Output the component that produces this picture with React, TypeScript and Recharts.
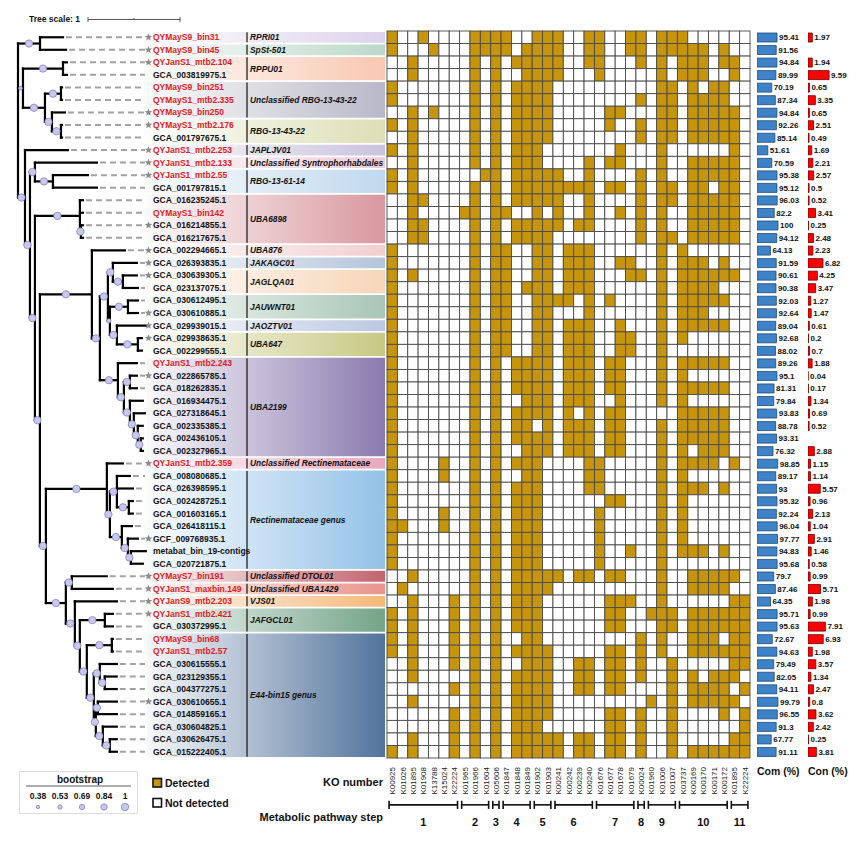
import React from "react";
import {
  ScatterChart,
  Scatter,
  XAxis,
  YAxis,
  ReferenceLine,
  ReferenceArea,
  BarChart,
  Bar,
  LabelList,
} from "recharts";

const FONT = '"Liberation Sans", Arial, Helvetica, sans-serif';

// ---------- data ----------
const GENOMES = [
  "QYMayS9_bin31", "QYMayS9_bin45", "QYJanS1_mtb2.104", "GCA_003819975.1", "QYMayS9_bin251",
  "QYMayS1_mtb2.335", "QYMayS9_bin250", "QYMayS1_mtb2.176", "GCA_001797675.1", "QYJanS1_mtb2.253",
  "QYJanS1_mtb2.133", "QYJanS1_mtb2.55", "GCA_001797815.1", "GCA_016235245.1", "QYMayS1_bin142",
  "GCA_016214855.1", "GCA_016217675.1", "GCA_002294665.1", "GCA_026393835.1", "GCA_030639305.1",
  "GCA_023137075.1", "GCA_030612495.1", "GCA_030610885.1", "GCA_029939015.1", "GCA_029938635.1",
  "GCA_002299555.1", "QYJanS1_mtb2.243", "GCA_022865785.1", "GCA_018262835.1", "GCA_016934475.1",
  "GCA_027318645.1", "GCA_002335385.1", "GCA_002436105.1", "GCA_002327965.1", "QYJanS1_mtb2.359",
  "GCA_008080685.1", "GCA_026398595.1", "GCA_002428725.1", "GCA_001603165.1", "GCA_026418115.1",
  "GCF_009768935.1", "metabat_bin_19-contigs", "GCA_020721875.1", "QYMayS7_bin191", "QYJanS1_maxbin.149",
  "QYJanS9_mtb2.203", "QYJanS1_mtb2.421", "GCA_030372995.1", "QYMayS9_bin68", "QYJanS1_mtb2.57",
  "GCA_030615555.1", "GCA_023129355.1", "GCA_004377275.1", "GCA_030610655.1", "GCA_014859165.1",
  "GCA_030604825.1", "GCA_030626475.1", "GCA_015222405.1",
];

const STARRED = [
  "QYMayS9_bin31", "QYMayS9_bin45", "QYJanS1_mtb2.104", "QYMayS9_bin250", "QYMayS1_mtb2.176",
  "QYJanS1_mtb2.253", "QYJanS1_mtb2.133", "QYJanS1_mtb2.55", "GCA_016214855.1", "GCA_002294665.1",
  "GCA_026393835.1", "GCA_030639305.1", "GCA_030610885.1", "GCA_029939015.1", "GCA_029938635.1",
  "GCA_022865785.1", "QYJanS1_mtb2.359", "GCF_009768935.1", "QYMayS7_bin191", "QYJanS1_maxbin.149",
  "QYJanS9_mtb2.203", "QYJanS1_mtb2.421", "GCA_030610655.1",
];

const COM = [
  95.41, 91.56, 94.84, 89.99, 70.19, 87.34, 94.84, 92.26, 85.14, 51.61,
  70.59, 95.38, 95.12, 96.03, 82.2, 100, 94.12, 64.13, 91.59, 90.61,
  90.38, 92.03, 92.64, 89.04, 92.68, 88.02, 89.26, 95.1, 81.31, 79.84,
  93.83, 88.78, 93.31, 76.32, 98.85, 89.17, 93, 95.32, 92.24, 96.04,
  97.77, 94.83, 95.68, 79.7, 87.46, 64.35, 95.71, 95.63, 72.67, 94.63,
  79.49, 82.05, 94.11, 99.79, 96.55, 91.3, 67.77, 91.11,
];

const CON = [
  1.97, 0, 1.94, 9.59, 0.65, 3.35, 0.65, 2.51, 0.49, 1.69,
  2.21, 2.57, 0.5, 0.52, 3.41, 0.25, 2.48, 2.23, 6.82, 4.25,
  3.47, 1.27, 1.47, 0.61, 0.2, 0.7, 1.88, 0.04, 0.17, 1.34,
  0.69, 0.52, 0, 2.88, 1.15, 1.14, 5.57, 0.96, 2.13, 1.04,
  2.91, 1.46, 0.58, 0.99, 5.71, 1.98, 0.99, 7.91, 6.93, 1.98,
  3.57, 1.34, 2.47, 0.8, 3.62, 2.42, 0.25, 3.81,
];

const KO = [
  "K00925", "K01026", "K01895", "K01908", "K13788", "K15024", "K22224",
  "K01965", "K01966", "K01604", "K05606", "K01847", "K01848", "K01849",
  "K01902", "K01903", "K00241", "K00242", "K00239", "K00240", "K01676",
  "K01677", "K01678", "K01679", "K00024", "K01960", "K01006", "K01007",
  "K03737", "K00169", "K00170", "K00171", "K00172", "K01895", "K22224",
];

const STEP_FIRST = [0, 7, 10, 11, 14, 16, 20, 24, 25, 28, 33];
const STEP_LAST = [6, 9, 10, 13, 15, 19, 23, 24, 27, 32, 34];

const CLADE_NAMES = [
  "RPRI01", "SpSt-501", "RPPU01", "Unclassified RBG-13-43-22", "RBG-13-43-22", "JAPLJV01",
  "Unclassified Syntrophorhabdales", "RBG-13-61-14", "UBA6898", "UBA876", "JAKAGC01", "JAGLQA01",
  "JAUWNT01", "JAOZTV01", "UBA647", "UBA2199", "Unclassified Rectinemataceae", "Rectinemataceae genus",
  "Unclassified DTOL01", "Unclassified UBA1429", "VJS01", "JAFGCL01", "E44-bin15 genus",
];
const CLADE_FIRST = [0, 1, 2, 4, 7, 9, 10, 11, 13, 17, 18, 19, 21, 23, 24, 26, 34, 35, 43, 44, 45, 46, 48];
const CLADE_LAST = [0, 1, 3, 6, 8, 9, 10, 12, 16, 17, 18, 20, 22, 23, 25, 33, 34, 42, 43, 44, 45, 47, 57];
const CLADE_COLORS = [
  "#dcd4ec", "#bcd8ca", "#f9c8b2", "#b8b8c8", "#dcdfb6", "#c9c3de", "#eccbdc", "#c0d8ee",
  "#d8989e", "#f2cfcf", "#b4c4da", "#f6d6b8", "#a8c6b6", "#bcc8e2", "#c8c884", "#8a7aae",
  "#eaa8bf", "#94c2e8", "#c2646f", "#e9948a", "#f4b87a", "#74a488", "#52739c",
];

// rows: 1 = detected, 0 = not detected (35 KO columns)
const HEAT = [
  "10010000111100111" + "001100110111000000",
  "10001000111101111" + "001100110111110100",
  "00100000101011111" + "001100010101110110",
  "00100000101001111" + "000100000101110010",
  "10000000101011110" + "000000000110101100",
  "10000000101011110" + "000000010110111100",
  "00101000101011110" + "000011000110111110",
  "10100000101011110" + "000010010110111110",
  "00100000101011110" + "000000010110111110",
  "10100000101011100" + "000001000100000010",
  "00100000101011100" + "001011000100111110",
  "10100000011011111" + "001000010100111110",
  "10100000101011111" + "111011010110110110",
  "00110000101011111" + "001000010110111110",
  "00100001101100101" + "001001010100111110",
  "00110000101011111" + "011000010100111110",
  "00110000101011110" + "000000010110111110",
  "10000000101100110" + "111000000101000000",
  "10000000101100110" + "111001100101110100",
  "10100000101100110" + "111000110101111110",
  "10000000101101110" + "111000000101111000",
  "10000000101100111" + "101010000101111100",
  "10000000101100110" + "001000000101110000",
  "10000000101100110" + "111001000101111100",
  "10000000101100110" + "111001100101000000",
  "10000000101100110" + "111001100100000000",
  "10000000101011110" + "111011000101111100",
  "10000000101011110" + "111011000101000000",
  "10000000101011110" + "111011000101111100",
  "10000000101001110" + "111001000101000000",
  "10000000101011110" + "101011000001111100",
  "10000000101011010" + "111011000101111100",
  "10000000101011110" + "111011000101111100",
  "10000000101001110" + "111011000101011100",
  "10000100101011100" + "001100000101111010",
  "10000100101001100" + "001100000101000000",
  "10000000101011100" + "001100000101110100",
  "10000000101011100" + "000011000101000000",
  "10000100101011100" + "000100000101000000",
  "11000100101011100" + "000100000101000000",
  "10000000101011100" + "000100000101000000",
  "10000000101011100" + "000100100101110100",
  "10000000101011100" + "000100000100000000",
  "00100000101011111" + "011011000100111110",
  "01000000101011110" + "000000000100111100",
  "00100010101011100" + "000011100100000011",
  "10100010101011100" + "000011001110111111",
  "10100010101011100" + "000011000110111111",
  "10100010101001100" + "000000010100111011",
  "10100010101011110" + "000011010100111111",
  "00100010101001110" + "011011010010000011",
  "00100000101011110" + "011011010010101110",
  "00000010101011110" + "011011000010111101",
  "00100000101011110" + "000000001010111110",
  "00000010101011110" + "000011010010000101",
  "00000010101011100" + "000011010010000001",
  "00100010101011111" + "011011010010000011",
  "10100010101011111" + "011011010010111111",
];

const BOOTSTRAP_LEGEND = [0.38, 0.53, 0.69, 0.84, 1];

// phylogeny, branch lengths in tree-scale units, internal labels = bootstrap
const TREE = `(
(QYMayS9_bin31:0.250,QYMayS9_bin45:0.283)1:0.239,
((QYJanS1_mtb2.104:0.043,GCA_003819975.1:0.043)1:0.435,((QYMayS9_bin251:0.011,QYMayS1_mtb2.335:0.011)1:0.174,(QYMayS9_bin250:0.141,(QYMayS1_mtb2.176:0.011,GCA_001797675.1:0.011)1:0.098)1:0.076)1:0.239)0.45:0.054,
(QYJanS1_mtb2.253:0.467,
((QYJanS1_mtb2.133:0.674,(QYJanS1_mtb2.55:0.380,GCA_001797815.1:0.478)1:0.196)1:0.054,
((GCA_016235245.1:0.033,QYMayS1_bin142:0.033,(GCA_016214855.1:0.022,GCA_016217675.1:0.022)1:0.011)1:0.489,
((GCA_002294665.1:0.359,
(((GCA_026393835.1:0.261,(GCA_030639305.1:0.152,GCA_023137075.1:0.163)1:0.109)1:0.054,
((GCA_030612495.1:0.109,GCA_030610885.1:0.109)1:0.196,(GCA_029939015.1:0.326,(GCA_029938635.1:0.043,GCA_002299555.1:0.043)1:0.228)1:0.076)0.53:0.022)1:0.087,
(QYJanS1_mtb2.243:0.207,((GCA_022865785.1:0.076,GCA_018262835.1:0.076)1:0.065,(GCA_016934475.1:0.141,(GCA_027318645.1:0.120,(GCA_002335385.1:0.054,(GCA_002436105.1:0.022,GCA_002327965.1:0.022)1:0.033)1:0.043)1:0.043)1:0.065)1:0.065)1:0.196)1:0.087)1:0.565,
((QYJanS1_mtb2.359:0.174,((GCA_008080685.1:0.141,GCA_026398595.1:0.174,(GCA_002428725.1:0.043,GCA_001603165.1:0.043)1:0.130)1:0.076,(GCA_026418115.1:0.109,(GCF_009768935.1:0.109,(metabat_bin_19-contigs:0.163,GCA_020721875.1:0.130)1:0.033)1:0.065)1:0.130)1:0.033)1:0.663,
((QYMayS7_bin191:0.380,QYJanS1_maxbin.149:0.446)1:0.065,
(QYJanS9_mtb2.203:0.457,((QYJanS1_mtb2.421:0.087,GCA_030372995.1:0.087)1:0.272,((QYMayS9_bin68:0.011,QYJanS1_mtb2.57:0.011)1:0.272,((GCA_030615555.1:0.185,(GCA_023129355.1:0.130,GCA_004377275.1:0.130)1:0.054)1:0.065,((GCA_030610655.1:0.207,GCA_014859165.1:0.207)1:0.022,(GCA_030604825.1:0.152,(GCA_030626475.1:0.076,GCA_015222405.1:0.076)1:0.076)1:0.076)1:0.022)1:0.076)1:0.076)1:0.054)1:0.098)1:0.217)1:0.065)1:0.054)1:0.054)1:0.054)1:0.076);`;

// ---------- layout ----------
const W = 865;
const H = 843;
const TOP = 31; // first row edge
const BOTTOM_GAP = H - 758; // below last row
const ROWS = GENOMES.length;
const ROW_H = (H - TOP - BOTTOM_GAP) / ROWS;

const TREE_LEFT = 18;
const TREE_PX = 92; // px per tree unit
const TREE_RIGHT = 385;
const TREE_MAX = (TREE_RIGHT - TREE_LEFT) / TREE_PX;
const toTree = (px: number) => (px - TREE_LEFT) / TREE_PX;

const HEAT_LEFT = 387;
const HEAT_RIGHT = 750;
const CELL_W = (HEAT_RIGHT - HEAT_LEFT) / KO.length;

const GOLD = "#c6950c";
const RED = "#e31a1c";

// ---------- tree parsing ----------
type TNode = { name: string; len: number; support: number; children: TNode[]; depth: number; y: number };

function parseNewick(src: string): TNode {
  const s = src.replace(/\s+/g, "");
  let i = 0;
  const node = (): TNode => {
    const n: TNode = { name: "", len: 0, support: 0, children: [], depth: 0, y: 0 };
    if (s[i] === "(") {
      i++;
      n.children.push(node());
      while (s[i] === ",") {
        i++;
        n.children.push(node());
      }
      i++;
    }
    let lab = "";
    while (i < s.length && !",():;".includes(s[i])) lab += s[i++];
    if (s[i] === ":") {
      i++;
      let num = "";
      while (i < s.length && !",();".includes(s[i])) num += s[i++];
      n.len = parseFloat(num);
    }
    if (n.children.length) n.support = parseFloat(lab) || 0;
    else n.name = lab;
    return n;
  };
  return node();
}

const treeRoot = parseNewick(TREE);

type Seg = { x1: number; y1: number; x2: number; y2: number };
const treeEdges: Seg[] = [];
const bootNodes: { x: number; y: number; b: number }[] = [];
const tipNodes: { name: string; depth: number; y: number }[] = [];

function layoutTree(n: TNode, parentDepth: number, isRoot: boolean) {
  n.depth = parentDepth + n.len;
  if (!n.children.length) {
    n.y = GENOMES.indexOf(n.name);
    tipNodes.push({ name: n.name, depth: n.depth, y: n.y });
    return;
  }
  n.children.forEach((c) => layoutTree(c, n.depth, false));
  const first = n.children[0];
  const last = n.children[n.children.length - 1];
  n.y = (first.y + last.y) / 2;
  treeEdges.push({ x1: n.depth, y1: first.y, x2: n.depth, y2: last.y });
  n.children.forEach((c) => treeEdges.push({ x1: n.depth, y1: c.y, x2: c.depth, y2: c.y }));
  if (!isRoot) bootNodes.push({ x: (parentDepth + n.depth) / 2, y: n.y, b: n.support });
}
layoutTree(treeRoot, 0, true);

const LEADER_END = toTree(145);
const leaders = tipNodes
  .filter((t) => t.depth + 0.05 < LEADER_END)
  .map((t) => ({ x1: t.depth + 3 / TREE_PX, x2: LEADER_END, y: t.y }));

const tipLabels = GENOMES.map((g, i) => ({
  x: toTree(153),
  y: i,
  name: g,
  star: STARRED.includes(g),
  red: g.startsWith("QY"),
}));

const cladeLabels = CLADE_NAMES.map((c, i) => ({
  x: toTree(250),
  y: (CLADE_FIRST[i] + CLADE_LAST[i]) / 2,
  name: c,
}));

const heatCells = HEAT.flatMap((row, r) =>
  row.split("").map((v, c) => ({ x: c, y: r, v: v === "1" }))
);

const barRows = GENOMES.map((g, i) => ({ name: g, com: COM[i], con: CON[i] }));

const stepLabels = STEP_FIRST.map((f, i) => ({ x: (f + STEP_LAST[i]) / 2, y: 0.72, step: i + 1 }));

const bootRadius = (b: number) => 1.7 + (2.0 * (b - 0.38)) / 0.62;

function starPath(cx: number, cy: number, r: number) {
  const pts: string[] = [];
  for (let k = 0; k < 10; k++) {
    const rad = k % 2 === 0 ? r : r * 0.45;
    const a = -Math.PI / 2 + (k * Math.PI) / 5;
    pts.push(`${(cx + rad * Math.cos(a)).toFixed(2)},${(cy + rad * Math.sin(a)).toFixed(2)}`);
  }
  return `M${pts.join("L")}Z`;
}

// ---------- shapes ----------
const renderBoot = (p: any) => (
  <circle cx={p.cx} cy={p.cy} r={bootRadius(p.payload.b)} fill="#c7c8ee" stroke="#7a7ab8" strokeWidth={0.7} />
);

const renderTip = (p: any) => {
  const d = p.payload;
  return (
    <g>
      {d.star && <path d={starPath(p.cx - 4.5, p.cy, 3.9)} fill="#8c8c8c" />}
      <text x={p.cx} y={p.cy} dy="0.35em" fontSize={8.5} fontWeight="bold" fontFamily={FONT} fill={d.red ? RED : "#111"}>
        {d.name}
      </text>
    </g>
  );
};

const renderClade = (p: any) => (
  <text x={p.cx} y={p.cy} dy="0.35em" fontSize={8.4} fontWeight="bold" fontStyle="italic" fontFamily={FONT} fill="#111">
    {p.payload.name}
  </text>
);

const renderCell = (p: any) => (
  <rect
    x={p.cx - CELL_W / 2}
    y={p.cy - ROW_H / 2}
    width={CELL_W}
    height={ROW_H}
    fill={p.payload.v ? GOLD : "#fff"}
    stroke="#4a4a4a"
    strokeWidth={0.9}
  />
);

const renderKoTick = (p: any) => (
  <text
    transform={`translate(${p.x + 3},${p.y}) rotate(-90)`}
    textAnchor="end"
    fontSize={8}
    fontFamily={FONT}
    fill="#222"
  >
    {KO[p.payload.value]}
  </text>
);

const renderStep = (p: any) => (
  <text x={p.cx} y={p.cy} dy="0.35em" textAnchor="middle" fontSize={11} fontWeight="bold" fontFamily={FONT} fill="#111">
    {p.payload.step}
  </text>
);

// ---------- panels ----------
function TreePanel() {
  return (
    <ScatterChart width={390} height={H} margin={{ top: TOP, right: 5, bottom: BOTTOM_GAP, left: TREE_LEFT }}>
      <defs>
        {CLADE_COLORS.map((c, i) => (
          <linearGradient key={i} id={`clade${i}`} x1="0" y1="0" x2="1" y2="0">
            <stop offset="0%" stopColor={c} stopOpacity={0.05} />
            <stop offset="100%" stopColor={c} stopOpacity={1} />
          </linearGradient>
        ))}
      </defs>
      <XAxis type="number" dataKey="x" domain={[0, TREE_MAX]} hide />
      <YAxis type="number" dataKey="y" domain={[-0.5, ROWS - 0.5]} reversed hide />
      {CLADE_NAMES.map((c, i) => (
        <ReferenceArea
          key={`box${c}`}
          x1={toTree(147)}
          x2={TREE_MAX}
          y1={CLADE_FIRST[i] - 0.5 + 0.07}
          y2={CLADE_LAST[i] + 0.5 - 0.07}
          fill={`url(#clade${i})`}
          fillOpacity={1}
          stroke="none"
        />
      ))}
      {leaders.map((l, i) => (
        <ReferenceLine
          key={`lead${i}`}
          segment={[{ x: l.x1, y: l.y }, { x: l.x2, y: l.y }]}
          stroke="#a2a2a2"
          strokeWidth={2}
          strokeDasharray="6 4"
        />
      ))}
      {treeEdges.map((e, i) => (
        <ReferenceLine
          key={`edge${i}`}
          segment={[{ x: e.x1, y: e.y1 }, { x: e.x2, y: e.y2 }]}
          stroke="#000"
          strokeWidth={2.2}
          strokeLinecap="square"
        />
      ))}
      {CLADE_NAMES.map((c, i) => (
        <ReferenceLine
          key={`div${c}`}
          segment={[{ x: toTree(247), y: CLADE_FIRST[i] - 0.4 }, { x: toTree(247), y: CLADE_LAST[i] + 0.4 }]}
          stroke="#111"
          strokeWidth={1.2}
        />
      ))}
      {/* tree scale bar: one unit */}
      <ReferenceLine ifOverflow="visible" segment={[{ x: toTree(88), y: -1.42 }, { x: toTree(88) + 1, y: -1.42 }]} stroke="#555" strokeWidth={1} />
      {[0, 0.5, 1].map((t) => (
        <ReferenceLine
          key={`sc${t}`}
          ifOverflow="visible"
          segment={[{ x: toTree(88) + t, y: t === 0.5 ? -1.55 : -1.62 }, { x: toTree(88) + t, y: t === 0.5 ? -1.42 : -1.22 }]}
          stroke="#555"
          strokeWidth={1}
        />
      ))}
      <Scatter data={bootNodes} shape={renderBoot} isAnimationActive={false} />
      <Scatter data={tipLabels} shape={renderTip} isAnimationActive={false} />
      <Scatter data={cladeLabels} shape={renderClade} isAnimationActive={false} />
    </ScatterChart>
  );
}

function HeatPanel() {
  return (
    <ScatterChart width={380} height={H} margin={{ top: TOP, right: 760 - HEAT_RIGHT, bottom: BOTTOM_GAP - 40, left: HEAT_LEFT - 380 }}>
      <XAxis
        type="number"
        dataKey="x"
        domain={[-0.5, KO.length - 0.5]}
        ticks={KO.map((_, i) => i)}
        interval={0}
        tickLine={false}
        axisLine={false}
        tickSize={0}
        tickMargin={9}
        height={40}
        tick={renderKoTick}
      />
      <YAxis type="number" dataKey="y" domain={[-0.5, ROWS - 0.5]} reversed hide />
      <Scatter data={heatCells} shape={renderCell} isAnimationActive={false} />
    </ScatterChart>
  );
}

function StepPanel() {
  return (
    <ScatterChart width={380} height={45} margin={{ top: 0, right: 760 - HEAT_RIGHT, bottom: 0, left: HEAT_LEFT - 380 }}>
      <XAxis type="number" dataKey="x" domain={[-0.5, KO.length - 0.5]} hide />
      <YAxis type="number" dataKey="y" domain={[0, 1]} reversed hide />
      {STEP_FIRST.map((f, i) => {
        const a = f - 0.5 + 0.2;
        const b = STEP_LAST[i] + 0.5 - 0.2;
        return (
          <React.Fragment key={`st${i}`}>
            <ReferenceLine segment={[{ x: a, y: 0.33 }, { x: b, y: 0.33 }]} stroke="#111" strokeWidth={1.6} />
            <ReferenceLine segment={[{ x: a, y: 0.24 }, { x: a, y: 0.42 }]} stroke="#111" strokeWidth={1.6} />
            <ReferenceLine segment={[{ x: b, y: 0.24 }, { x: b, y: 0.42 }]} stroke="#111" strokeWidth={1.6} />
          </React.Fragment>
        );
      })}
      <Scatter data={stepLabels} shape={renderStep} isAnimationActive={false} />
    </ScatterChart>
  );
}

function ComPanel() {
  return (
    <BarChart layout="vertical" width={62} height={H} data={barRows} margin={{ top: TOP, right: 41, bottom: BOTTOM_GAP, left: 0 }}>
      <XAxis type="number" domain={[0, 100]} hide />
      <YAxis type="category" dataKey="name" hide />
      <Bar dataKey="com" fill="#3e82c7" stroke="#1c4a7a" strokeWidth={0.8} barSize={9} isAnimationActive={false}>
        <LabelList dataKey="com" position="right" offset={2} fontSize={8} fontWeight="bold" fill="#111" fontFamily={FONT} />
      </Bar>
    </BarChart>
  );
}

function ConPanel() {
  return (
    <BarChart layout="vertical" width={57} height={H} data={barRows} margin={{ top: TOP, right: 35, bottom: BOTTOM_GAP, left: 0 }}>
      <XAxis type="number" domain={[0, 10]} hide />
      <YAxis type="category" dataKey="name" hide />
      <Bar dataKey="con" fill="#ff0000" stroke="#6a0000" strokeWidth={0.8} barSize={9} isAnimationActive={false}>
        <LabelList dataKey="con" position="right" offset={2} fontSize={8} fontWeight="bold" fill="#111" fontFamily={FONT} />
      </Bar>
    </BarChart>
  );
}

function Legends() {
  const xs = [38, 60, 82, 104, 125];
  return (
    <svg width={380} height={88} style={{ position: "absolute", left: 0, top: 755 }} fontFamily={FONT}>
      <rect x={19.5} y={16.5} width={118} height={42} fill="#fff" stroke="#dcdcdc" />
      <text x={80} y={24} dy="0.35em" textAnchor="middle" fontSize={10} fontWeight="bold" fill="#111">
        bootstrap
      </text>
      <line x1={26} x2={131} y1={31} y2={31} stroke="#333" strokeWidth={0.8} />
      {BOOTSTRAP_LEGEND.map((b, i) => (
        <g key={b}>
          <text x={xs[i]} y={41} dy="0.35em" textAnchor="middle" fontSize={8.5} fontWeight="bold" fill="#111">
            {b}
          </text>
          <circle cx={xs[i]} cy={52} r={bootRadius(b)} fill="#c7c8ee" stroke="#7a7ab8" strokeWidth={0.7} />
        </g>
      ))}
      <rect x={153} y={23.5} width={8.5} height={8.5} fill={GOLD} stroke="#111" strokeWidth={1.6} />
      <text x={165} y={28} dy="0.35em" fontSize={10.5} fontWeight="bold" fill="#111">
        Detected
      </text>
      <rect x={153} y={43.5} width={8.5} height={8.5} fill="#fff" stroke="#111" strokeWidth={1.6} />
      <text x={165} y={48} dy="0.35em" fontSize={10.5} fontWeight="bold" fill="#111">
        Not detected
      </text>
    </svg>
  );
}

const textStyle: React.CSSProperties = {
  position: "absolute",
  whiteSpace: "nowrap",
  lineHeight: 1,
  fontWeight: "bold",
  color: "#111",
};

export default function App() {
  return (
    <div
      style={{
        position: "fixed",
        left: 0,
        top: 0,
        width: W,
        height: H,
        background: "#fff",
        fontFamily: FONT,
        overflow: "hidden",
      }}
    >
      <div style={{ position: "absolute", left: 0, top: 0 }}>
        <TreePanel />
      </div>
      <div style={{ position: "absolute", left: 380, top: 0 }}>
        <HeatPanel />
      </div>
      <div style={{ position: "absolute", left: 380, top: 790 }}>
        <StepPanel />
      </div>
      <div style={{ position: "absolute", left: 757, top: 0 }}>
        <ComPanel />
      </div>
      <div style={{ position: "absolute", left: 808, top: 0 }}>
        <ConPanel />
      </div>
      <div style={{ ...textStyle, left: 29, top: 15, fontSize: 8.5 }}>Tree scale: 1</div>
      <div style={{ ...textStyle, left: 290, width: 93, textAlign: "right", top: 777, fontSize: 11 }}>KO number</div>
      <div style={{ ...textStyle, left: 230, width: 153, textAlign: "right", top: 812, fontSize: 11 }}>
        Metabolic pathway step
      </div>
      <div style={{ ...textStyle, left: 757, top: 766, fontSize: 10.5 }}>Com (%)</div>
      <div style={{ ...textStyle, left: 808, top: 766, fontSize: 10.5 }}>Con (%)</div>
      <Legends />
    </div>
  );
}
